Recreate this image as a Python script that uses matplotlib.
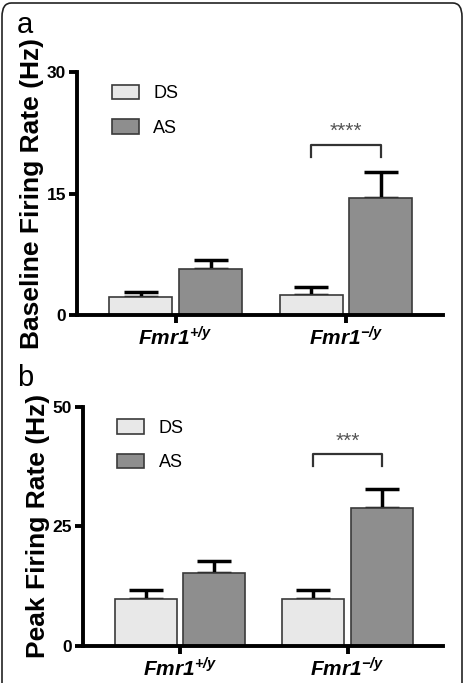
import matplotlib.pyplot as plt
import numpy as np
from matplotlib.patches import FancyBboxPatch

plt.rcParams['font.family'] = ['Liberation Sans', 'DejaVu Sans']
plt.rcParams['mathtext.fontset'] = 'custom'
plt.rcParams['mathtext.it'] = 'Liberation Sans:bold:italic'
plt.rcParams['mathtext.rm'] = 'Liberation Sans:bold:italic'

groups = [r"$Fmr1^{+/y}$", r"$Fmr1^{-/y}$"]
series = ["DS", "AS"]

# panel a: baseline firing rate (Hz)
base_ds = [2.2, 2.5]
base_ds_err = [0.7, 0.9]
base_as = [5.7, 14.4]
base_as_err = [1.1, 3.3]

# panel b: peak firing rate (Hz)
peak_ds = [9.8, 9.9]
peak_ds_err = [2.0, 1.8]
peak_as = [15.2, 28.9]
peak_as_err = [2.6, 4.0]

colors = {"DS": "#e8e8e8", "AS": "#8e8e8e"}
edge = "#3a3a3a"

fig = plt.figure(figsize=(4.65, 6.83), dpi=100)

# rounded border around the figure
fig.patches.append(FancyBboxPatch((2 / 465, -0.05), 460 / 465, 1 - 3 / 683 + 0.05,
                                  boxstyle="round,pad=0,rounding_size=0.02",
                                  transform=fig.transFigure, fill=False,
                                  edgecolor="#222222", linewidth=1.2))

def panel(rect, ds, ds_err, as_, as_err, ymax, ylabel, stars, br_y, br_drop):
    ax = fig.add_axes(rect)
    x = np.arange(len(groups))
    w = 0.37
    off = 0.205
    ax.bar(x - off, ds, w, color=colors["DS"], edgecolor=edge, linewidth=1.2,
           label="DS", zorder=2)
    ax.bar(x + off, as_, w, color=colors["AS"], edgecolor=edge, linewidth=1.2,
           label="AS", zorder=2)
    ax.errorbar(x - off, ds, yerr=[np.zeros(len(ds)), ds_err], fmt="none",
                ecolor="black", elinewidth=2.5, capsize=12, capthick=2.5, zorder=1)
    ax.errorbar(x + off, as_, yerr=[np.zeros(len(as_)), as_err], fmt="none",
                ecolor="black", elinewidth=2.5, capsize=12, capthick=2.5, zorder=1)
    ax.set_xlim(-0.58, 1.57)
    ax.set_ylim(0, ymax)
    ax.set_yticks([0, ymax / 2, ymax])
    ax.set_yticklabels([f"{int(v)}" for v in [0, ymax / 2, ymax]],
                       fontsize=12.5, fontweight="bold")
    ax.set_xticks(x)
    ax.set_xticklabels(groups, fontsize=15)
    for s in ["top", "right"]:
        ax.spines[s].set_visible(False)
    for s in ["left", "bottom"]:
        ax.spines[s].set_linewidth(2.8)
    ax.tick_params(width=2.8, length=6, pad=2)
    ax.set_ylabel(ylabel, fontsize=19, fontweight="bold", labelpad=2)
    # significance bracket
    x1, x2 = 1 - off, 1 + off
    ax.plot([x1, x1, x2, x2], [br_y - br_drop, br_y, br_y, br_y - br_drop],
            color="#333333", linewidth=1.6, clip_on=False)
    ax.text(1, br_y + br_drop * 0.3, stars, ha="center", va="bottom",
            fontsize=15, color="#555555")
    ax.legend(loc="upper left", bbox_to_anchor=(0.05, 1.015), frameon=False,
              fontsize=13, handlelength=1.5, handleheight=0.85,
              labelspacing=0.95, handletextpad=0.8)
    return ax

panel([77 / 465, 1 - 315 / 683, 366 / 465, 243 / 683],
      base_ds, base_ds_err, base_as, base_as_err, 30,
      "Baseline Firing Rate (Hz)", "****", 21.0, 1.5)
panel([83 / 465, 1 - 646 / 683, 360 / 465, 239.3 / 683],
      peak_ds, peak_ds_err, peak_as, peak_as_err, 50,
      "Peak Firing Rate (Hz)", "***", 40.1, 2.5)

fig.text(25 / 465, 1 - 25 / 683, "a", fontsize=21, ha="center", va="center")
fig.text(25 / 465, 1 - 378 / 683, "b", fontsize=21, ha="center", va="center")

fig.savefig("out.png", dpi=100)
